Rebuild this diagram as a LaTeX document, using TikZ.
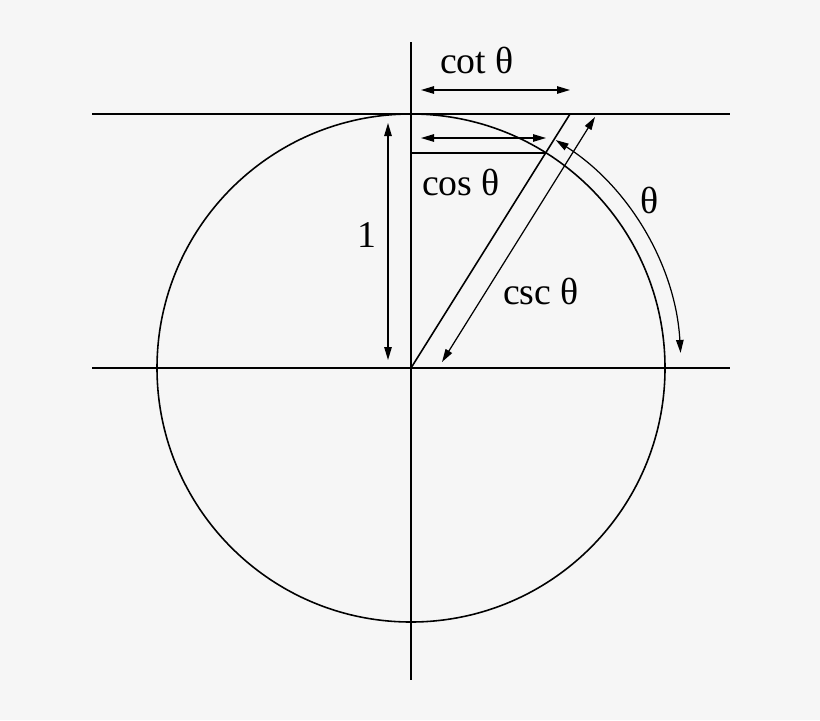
\documentclass[tikz,border=0pt]{standalone}
\usepackage{fontspec}
\setmainfont{Liberation Serif}
\usetikzlibrary{arrows.meta,calc}
\definecolor{bgray}{RGB}{246,246,246}

\begin{document}
\begin{tikzpicture}[x=0.02cm,y=-0.02cm, line width=0.9pt,
	dim/.style={{Triangle[length=2.6mm,width=1.5mm]}-{Triangle[length=2.6mm,width=1.5mm]}, line width=0.7pt},
	lbl/.style={anchor=base, inner sep=0pt, font=\fontsize{21.5}{25}\selectfont}]
				\fill [bgray] (0,0) rectangle (820,720);
				\useasboundingbox (0,0) rectangle (820,720);
				
				\coordinate (O) at (411,368);
				\coordinate (T) at (570,114);
				\coordinate (P) at ($(O)!0.8476!(T)$);
				
				% axes and tangent line
				\draw [-] (92,368) -- (730,368);
				\draw [-] (411,42) -- (411,680);
				\draw [-] (92,114) -- (730,114);
				
				\draw (O) circle [radius=254];
				
				\draw [-] (O) -- (T);
				\draw [-] (O |- P) -- (P);
				
				% measures
				\draw [dim] (421,90) -- (570,90);
				\draw [dim] (421,138) -- (546,138);
				\draw [dim] (388,123) -- (388,360);
				\draw [dim] (442,362) -- (595,117);
				\draw [dim] (O) ++(-57.6:270) arc [start angle=-57.6, end angle=-3.2, radius=270];
				
				\node [lbl] (cot) at (477,73) {cot θ};
				\node [lbl] (cos) at (461,195) {cos θ};
				\node [lbl] (csc) at (541,304) {csc θ};
				\node [lbl] (one) at (367,247) {1};
				\node [lbl] (ang) at (650,213) {θ};
\end{tikzpicture}
\end{document}
